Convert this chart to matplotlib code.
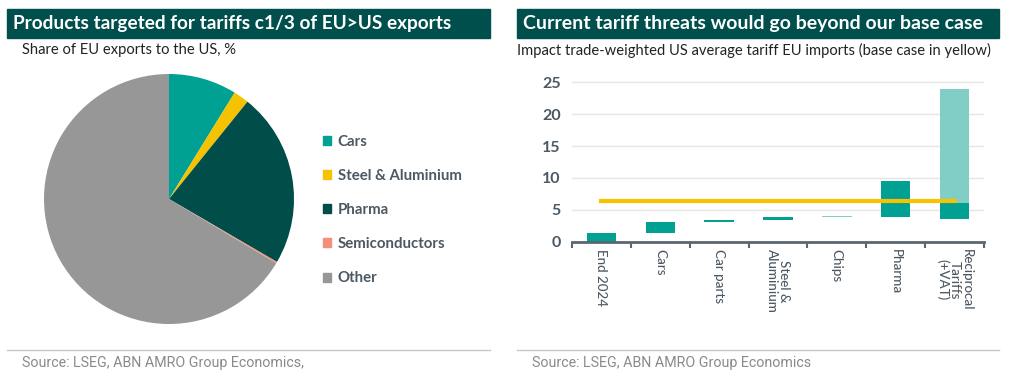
import numpy as np
import matplotlib.pyplot as plt
from matplotlib.patches import Rectangle
from matplotlib.lines import Line2D

# pie data: share of EU exports to the US, %
pie_labels = ["Cars", "Steel & Aluminium", "Pharma", "Semiconductors", "Other"]
pie_values = [8.8, 2.0, 22.6, 0.2, 66.4]
pie_colors = ["#00A192", "#F5C200", "#004D4A", "#F4907A", "#979797"]

# waterfall data: trade-weighted US average tariff on EU imports
categories = ["End 2024", "Cars", "Car parts", "Steel &\nAluminium", "Chips",
              "Pharma", "Reciprocal\nTariffs\n(+VAT)"]
dark_from = [0, 1.4, 3.0, 3.4, np.nan, 3.9, 3.5]
dark_to = [1.4, 3.0, 3.4, 3.9, np.nan, 9.5, 6.0]
light_from = [np.nan, np.nan, np.nan, np.nan, 3.8, np.nan, 6.0]
light_to = [np.nan, np.nan, np.nan, np.nan, 4.0, np.nan, 24.0]
base_case = 6.4
y_ticks = [0, 5, 10, 15, 20, 25]

banner = "#004F4D"
txt = "#4C5862"
W, H = 1013, 379

plt.rcParams['font.family'] = ['Lato', 'DejaVu Sans']
fig = plt.figure(figsize=(W / 100, H / 100), dpi=100)


def px_axes(x0, y0, x1, y1):
    # axes from pixel box (top-left origin)
    return fig.add_axes([x0 / W, 1 - y1 / H, (x1 - x0) / W, (y1 - y0) / H])


def header(x0, x1, title, title_size, subtitle, sub_x, source):
    fig.patches.append(Rectangle((x0 / W, 1 - 38 / H), (x1 - x0) / W, 29 / H,
                                 transform=fig.transFigure, color=banner, zorder=0))
    fig.text((x0 + 6) / W, 1 - 23.5 / H, title, color="white", fontsize=title_size,
             fontweight="bold", va="center", ha="left")
    fig.text(sub_x / W, 1 - 50 / H, subtitle, color="#222222",
             fontsize=10.6, va="center", ha="left")
    fig.lines.append(Line2D([x0 / W, x1 / W], [1 - 350 / H, 1 - 350 / H],
                            transform=fig.transFigure, color="#C8C8C8", lw=1))
    fig.text((x0 + 15) / W, 1 - 362.5 / H, source, color="#8A8A8A", fontsize=10.3,
             va="center", ha="left", family=["Roboto", "DejaVu Sans"], fontstretch="condensed")


header(7, 490, "Products targeted for tariffs c1/3 of EU>US exports", 13.7,
       "Share of EU exports to the US, %", 22,
       "Source: LSEG, ABN AMRO Group Economics,")
header(517, 999, "Current tariff threats would go beyond our base case", 14,
       "Impact trade-weighted US average tariff EU imports (base case in yellow)", 517,
       "Source: LSEG, ABN AMRO Group Economics")

# pie
ax1 = px_axes(44, 74, 294, 324)
ax1.pie(pie_values, colors=pie_colors, startangle=90, counterclock=False,
        wedgeprops=dict(linewidth=0))
ax1.set_xlim(-1.0, 1.0)
ax1.set_ylim(-1.0, 1.0)
ax1.set_aspect("equal")
handles = [Rectangle((0, 0), 1, 1, color=c) for c in pie_colors]
leg = fig.legend(handles, pie_labels, loc="upper left",
                 bbox_to_anchor=(309 / W, 1 - 121 / H), frameon=False,
                 handlelength=0.55, handleheight=0.55, handletextpad=0.45,
                 labelspacing=1.35, prop=dict(size=10.8, weight="bold"))
for t in leg.get_texts():
    t.set_color(txt)

# waterfall
ax2 = px_axes(572, 76, 984, 241.5)
x = np.arange(len(categories))
df = np.array(dark_from); dt = np.array(dark_to)
lf = np.array(light_from); lt = np.array(light_to)
ax2.bar(x, dt - df, bottom=df, width=0.5, color="#00A192", zorder=2)
ax2.bar(x, lt - lf, bottom=lf, width=0.5, color="#80CEC6", zorder=2)
ax2.plot([x[0], x[-1]], [base_case, base_case], color="#F7C200", lw=3, zorder=3)
ax2.set_xlim(-0.5, len(categories) - 0.5)
ax2.set_ylim(0, 26)
ax2.set_yticks(y_ticks)
ax2.grid(axis="y", color="#E4E4E4", lw=1, zorder=0)
ax2.tick_params(axis="y", length=0, labelsize=11.5, labelcolor=txt, pad=8)
for s in ["top", "right", "left"]:
    ax2.spines[s].set_visible(False)
ax2.spines["bottom"].set_color("#5A6670")
ax2.spines["bottom"].set_linewidth(2)
ax2.set_xticks(np.append(x - 0.5, x[-1] + 0.5))
ax2.set_xticklabels([""] * (len(categories) + 1))
ax2.tick_params(axis="x", length=4, width=1.5, color="#5A6670", direction="out")
for xi, lab in zip(x, categories):
    ax2.text(xi, -1.2, lab, rotation=-90, ha="center", va="top", multialignment="center",
             fontsize=9.6, color=txt, fontweight="medium", linespacing=1.0)
for t in ax2.get_yticklabels():
    t.set_fontweight("bold")

fig.savefig("out.png", dpi=100)
